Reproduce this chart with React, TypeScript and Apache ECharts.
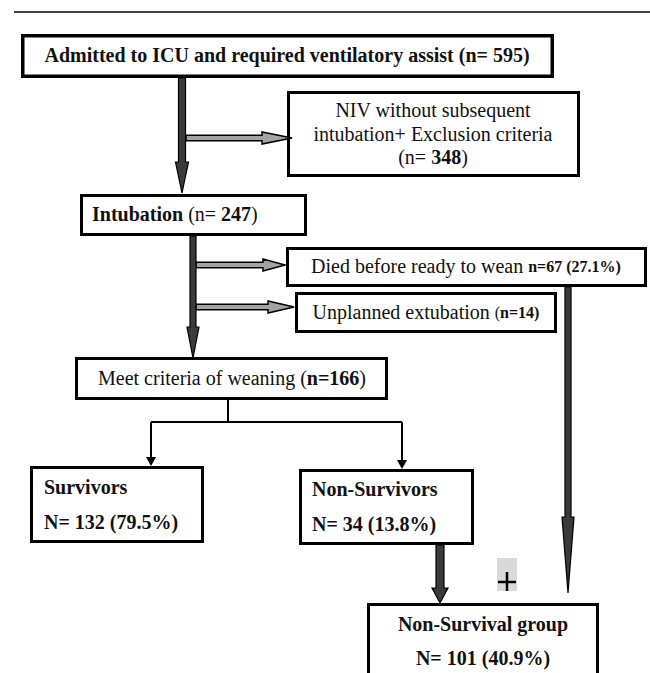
import React, { useEffect, useRef } from "react";
import * as echarts from "echarts";

// ---- Data ----
const nodeTitles = [
  "Admitted to ICU and required ventilatory assist",
  "NIV without subsequent",
  "intubation+ Exclusion criteria",
  "Intubation",
  "Died before ready to wean",
  "Unplanned extubation",
  "Meet criteria of weaning",
  "Survivors",
  "Non-Survivors",
  "Non-Survival group",
];
const nodeCounts = [595, 348, 247, 67, 14, 166, 132, 34, 101];
const nodePercents = ["", "", "", "27.1%", "", "", "79.5%", "13.8%", "40.9%"];

const FONT = '"Liberation Serif", "Times New Roman", "DejaVu Serif", serif';

function box(x1: number, y1: number, x2: number, y2: number, lw = 3) {
  return {
    type: "rect",
    shape: { x: x1 + lw / 2, y: y1 + lw / 2, width: x2 - x1 - lw, height: y2 - y1 - lw },
    style: { fill: "#fff", stroke: "#000", lineWidth: lw },
    z: 2,
  };
}

function txt(x: number, y: number, text: string, align = "center", opts: any = {}) {
  return {
    type: "text",
    x,
    y,
    z: 5,
    style: {
      text,
      fontFamily: FONT,
      fontSize: 20,
      fontWeight: opts.bold ? "bold" : "normal",
      fill: "#111",
      align,
      verticalAlign: "middle",
      rich: {
        b: { fontFamily: FONT, fontSize: 20, fontWeight: "bold", fill: "#111" },
        sb: { fontFamily: FONT, fontSize: 16, fontWeight: "bold", fill: "#111" },
        s: { fontFamily: FONT, fontSize: 16, fontWeight: "normal", fill: "#111" },
        r: { fontFamily: FONT, fontSize: 20, fontWeight: "normal", fill: "#111" },
      },
    },
  };
}

function thickDown(x: number, y0: number, yHead: number, yTip: number, shaftHalf: number, headHalf: number) {
  return {
    type: "polygon",
    z: 4,
    shape: {
      points: [
        [x - shaftHalf, y0],
        [x + shaftHalf, y0],
        [x + shaftHalf, yHead],
        [x + headHalf, yHead],
        [x, yTip],
        [x - headHalf, yHead],
        [x - shaftHalf, yHead],
      ],
    },
    style: { fill: "#3a3a3a", stroke: "#000", lineWidth: 1.2 },
  };
}

function hollowRight(x0: number, xHead: number, xTip: number, y: number) {
  const h = 2.8;
  const H = 6;
  return {
    type: "polygon",
    z: 3,
    shape: {
      points: [
        [x0, y - h],
        [xHead, y - h],
        [xHead, y - H],
        [xTip, y],
        [xHead, y + H],
        [xHead, y + h],
        [x0, y + h],
      ],
    },
    style: { fill: "#a3a3a3", stroke: "#000", lineWidth: 1.5 },
  };
}

function line(x1: number, y1: number, x2: number, y2: number, lw = 2) {
  return {
    type: "line",
    z: 3,
    shape: { x1, y1, x2, y2 },
    style: { stroke: "#000", lineWidth: lw },
  };
}

function smallHead(x: number, yTip: number) {
  return {
    type: "polygon",
    z: 4,
    shape: { points: [[x - 5, yTip - 9], [x + 5, yTip - 9], [x, yTip]] },
    style: { fill: "#000" },
  };
}

export default function App() {
  const ref = useRef<HTMLDivElement>(null);
  useEffect(() => {
    if (!ref.current) return;
    const chart = echarts.init(ref.current, null, { renderer: "svg" });
    const elements: any[] = [
      // top rule
      line(14, 12, 650, 12, 1.5),
      // boxes
      box(21, 34, 554, 78, 3.5),
      box(287, 91, 580, 177, 3),
      box(80, 194, 307, 236, 3),
      box(286, 247, 647, 287, 3),
      box(295, 292, 557, 333, 3),
      box(75, 357, 388, 400, 3),
      box(30, 466, 204, 543, 3),
      box(299, 469, 474, 545, 3),
      box(367, 603, 599, 700, 3),
      // texts
      txt(287, 55, `{b|${nodeTitles[0]} (n= ${nodeCounts[0]})}`),
      txt(433, 110, `{r|${nodeTitles[1]}}`),
      txt(433, 134, `{r|${nodeTitles[2]}}`),
      txt(433, 157, `{r|(n= }{b|${nodeCounts[1]}}{r|)}`),
      txt(92, 214, `{b|${nodeTitles[3]}}{r| (n= }{b|${nodeCounts[2]}}{r|)}`, "left"),
      txt(466, 266, `{r|${nodeTitles[4]} }{sb|n=${nodeCounts[3]} (${nodePercents[3]})}`),
      txt(426, 312, `{r|${nodeTitles[5]} }{s|(}{sb|n=${nodeCounts[4]})}`),
      txt(232, 378, `{r|${nodeTitles[6]} (}{b|n=${nodeCounts[5]}}{r|)}`),
      txt(44, 487, `{b|${nodeTitles[7]}}`, "left"),
      txt(44, 522, `{b|N= ${nodeCounts[6]} (${nodePercents[6]})}`, "left"),
      txt(312, 489, `{b|${nodeTitles[8]}}`, "left"),
      txt(312, 524, `{b|N= ${nodeCounts[7]} (${nodePercents[7]})}`, "left"),
      txt(483, 624, `{b|${nodeTitles[9]}}`),
      txt(483, 658, `{b|N= ${nodeCounts[8]} (${nodePercents[8]})}`),
      // thick arrows
      thickDown(182, 78, 162, 193, 3.5, 6.5),
      thickDown(193, 236, 327, 358, 3, 6),
      thickDown(440, 545, 588, 603, 4, 8),
      thickDown(568, 287, 517, 593, 3, 6),
      // hollow arrows
      hollowRight(186, 262, 292, 138),
      hollowRight(196, 263, 285, 265),
      hollowRight(196, 268, 294, 307),
      // thin connectors
      line(228, 400, 228, 422),
      line(151, 422, 402, 422),
      line(151, 422, 151, 458),
      smallHead(151, 466),
      line(402, 422, 402, 461),
      smallHead(402, 469),
      // plus marker
      {
        type: "rect",
        z: 1,
        shape: { x: 497, y: 558, width: 20, height: 33 },
        style: { fill: "#d9d9d9" },
      },
      line(498, 582, 516, 582, 2.5),
      line(507, 572, 507, 591, 2.5),
    ];
    chart.setOption({
      animation: false,
      backgroundColor: "#fff",
      graphic: { elements },
    });
    return () => chart.dispose();
  }, []);
  return (
    <div
      ref={ref}
      style={{ position: "fixed", left: 0, top: 0, width: 650, height: 673, background: "#fff" }}
    />
  );
}
